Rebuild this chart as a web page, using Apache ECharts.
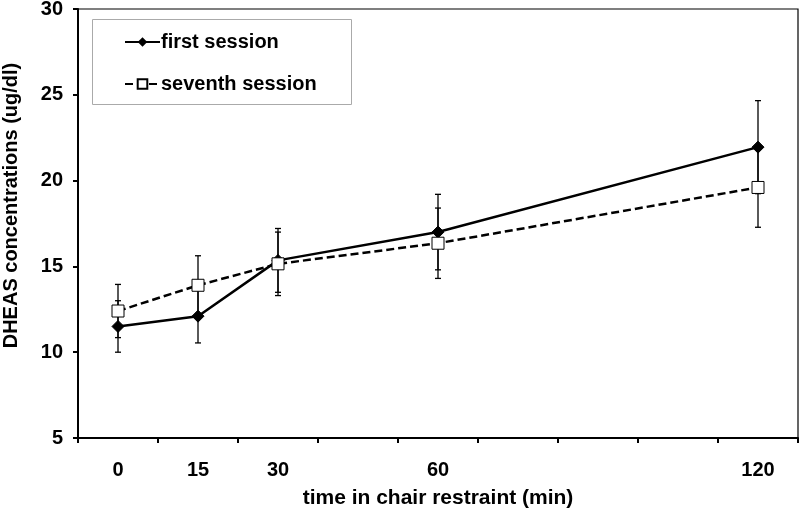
<!DOCTYPE html>
<html>
<head>
<meta charset="utf-8">
<script src="https://cdn.jsdelivr.net/npm/echarts@6/dist/echarts.min.js"></script>
<style>html,body{margin:0;padding:0;background:#fff}#c{width:800px;height:519px}</style>
</head>
<body>
<div id="c"></div>
<script>
var categories = ['0', '15', '30', '', '60', '', '', '', '120'];
var firstSession = [11.5, 12.1, 15.35, null, 17.0, null, null, null, 21.95];
var firstErr = [1.5, 1.56, 1.86, null, 2.2, null, null, null, 2.71];
var seventhSession = [12.4, 13.9, 15.15, null, 16.35, null, null, null, 19.6];
var seventhErr = [1.55, 1.72, 1.85, null, 2.05, null, null, null, 2.32];
var yTicks = {min: 5, max: 30, interval: 5};

var FONT = '"Liberation Sans", Arial, sans-serif';

function errData(vals, errs) {
  var out = [];
  for (var i = 0; i < vals.length; i++) {
    if (vals[i] != null) out.push([i, vals[i] - errs[i], vals[i] + errs[i]]);
  }
  return out;
}
function errRender(params, api) {
  var x = api.value(0);
  var lo = api.coord([x, api.value(1)]);
  var hi = api.coord([x, api.value(2)]);
  var w = 3;
  var st = {stroke: '#000', lineWidth: 1.3};
  return {
    type: 'group',
    children: [
      {type: 'line', shape: {x1: lo[0], y1: lo[1], x2: hi[0], y2: hi[1]}, style: st},
      {type: 'line', shape: {x1: lo[0] - w, y1: lo[1], x2: lo[0] + w, y2: lo[1]}, style: st},
      {type: 'line', shape: {x1: hi[0] - w, y1: hi[1], x2: hi[0] + w, y2: hi[1]}, style: st}
    ]
  };
}

var chart = echarts.init(document.getElementById('c'), null, {renderer: 'canvas'});
chart.setOption({
  animation: false,
  backgroundColor: '#fff',
  grid: {left: 78, right: 2, top: 9, bottom: 81, show: true, borderColor: '#000', borderWidth: 1.2,
         containLabel: false, outerBoundsMode: 'none'},
  legend: {
    orient: 'vertical', left: 119, top: 27, itemWidth: 35, itemHeight: 12, itemGap: 22,
    textStyle: {fontFamily: FONT, fontWeight: 'bold', fontSize: 20, color: '#000', padding: [0, 0, 0, -4]},
    data: ['first session', 'seventh session']
  },
  graphic: [{
    type: 'rect', left: 90, top: 17, shape: {width: 259, height: 85},
    style: {fill: 'none', stroke: '#aaa', lineWidth: 1}, z: 1
  }],
  xAxis: {
    type: 'category', data: categories, boundaryGap: true,
    name: 'time in chair restraint (min)', nameLocation: 'middle', nameGap: 50,
    nameTextStyle: {fontFamily: FONT, fontWeight: 'bold', fontSize: 21, color: '#000'},
    axisLine: {lineStyle: {color: '#000', width: 2}},
    axisTick: {show: true, length: 5, lineStyle: {color: '#000', width: 2}},
    axisLabel: {fontFamily: FONT, fontWeight: 'bold', fontSize: 20, color: '#000', margin: 22, interval: 0}
  },
  yAxis: {
    type: 'value', min: yTicks.min, max: yTicks.max, interval: yTicks.interval,
    name: 'DHEAS concentrations (ug/dl)', nameLocation: 'middle', nameGap: 57,
    nameTextStyle: {fontFamily: FONT, fontWeight: 'bold', fontSize: 20, color: '#000', padding: [0, 0, 0, 36]},
    axisLine: {show: true, lineStyle: {color: '#000', width: 2}},
    axisTick: {show: true, length: 5, lineStyle: {color: '#000', width: 2}},
    axisLabel: {fontFamily: FONT, fontWeight: 'bold', fontSize: 20, color: '#000', margin: 15},
    splitLine: {show: false}
  },
  series: [
    {
      type: 'custom', name: 'err1', renderItem: errRender, data: errData(firstSession, firstErr),
      encode: {x: 0, y: [1, 2]}, z: 1, silent: true
    },
    {
      type: 'custom', name: 'err7', renderItem: errRender, data: errData(seventhSession, seventhErr),
      encode: {x: 0, y: [1, 2]}, z: 1, silent: true
    },
    {
      name: 'first session', type: 'line', data: firstSession, connectNulls: true,
      symbol: 'diamond', symbolSize: 12,
      lineStyle: {color: '#000', width: 2.5},
      itemStyle: {color: '#000', borderColor: '#000'}, z: 3
    },
    {
      name: 'seventh session', type: 'line', data: seventhSession, connectNulls: true,
      symbol: 'rect', symbolSize: 12,
      lineStyle: {color: '#000', width: 2.5, type: [8, 4]},
      itemStyle: {color: '#fff', borderColor: '#000', borderWidth: 1}, z: 4
    }
  ]
});
</script>
</body>
</html>
